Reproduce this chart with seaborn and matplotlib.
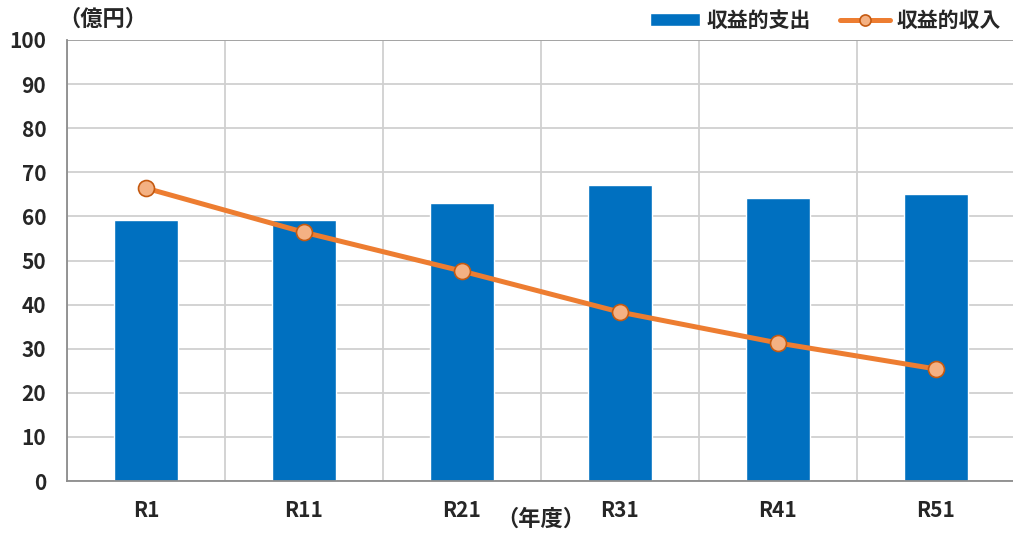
import matplotlib
matplotlib.use('Agg')
import matplotlib.pyplot as plt
import numpy as np
import pandas as pd
import seaborn as sns

years = ['R1', 'R11', 'R21', 'R31', 'R41', 'R51']
spending = [59.2, 59.2, 63.0, 67.1, 64.1, 65.1]
income = [66.4, 56.4, 47.6, 38.3, 31.3, 25.4]

df = pd.DataFrame({'年度': years, '収益的支出': spending, '収益的収入': income})

sns.set_style('white')
plt.rcParams['font.family'] = ['Noto Sans CJK JP', 'DejaVu Sans']
plt.rcParams['font.weight'] = 'bold'

fig = plt.figure(figsize=(10.13, 5.36), dpi=100)
ax = fig.add_axes([67 / 1013, 55 / 536, 948 / 1013, 441 / 536])

sns.barplot(data=df, x='年度', y='収益的支出', color='#0070C0', saturation=1,
            width=0.4, ax=ax, label='収益的支出', zorder=2)
sns.lineplot(data=df, x='年度', y='収益的収入', color='#ED7D31', linewidth=3.6,
             marker='o', markersize=11.5, markerfacecolor='#F4B183',
             markeredgecolor='#C55A11', markeredgewidth=1.2, ax=ax,
             label='収益的収入', zorder=3)

ax.set_xlim(-0.5, 5.5)
ax.set_ylim(0, 100)
ax.set_yticks(np.arange(0, 101, 10))
ax.set_xticks(np.arange(-0.5, 6, 1), minor=True)
ax.grid(axis='y', color='#D0D0D0', linewidth=1.3, zorder=0)
ax.grid(axis='x', which='minor', color='#D0D0D0', linewidth=1.3, zorder=0)
ax.set_axisbelow(True)
for s in ['top', 'right']:
    ax.spines[s].set_visible(False)
ax.spines['left'].set_color('#8C8C8C')
ax.spines['bottom'].set_color('#8C8C8C')
ax.spines['left'].set_linewidth(1.3)
ax.spines['bottom'].set_linewidth(1.3)
ax.axhline(100, color='#A0A0A0', linewidth=1.3, zorder=1)
ax.tick_params(axis='both', which='both', length=0, labelsize=15)
ax.tick_params(axis='y', pad=15)
ax.tick_params(axis='x', pad=14)
for t in ax.get_xticklabels() + ax.get_yticklabels():
    t.set_fontweight('bold')
ax.set_xlabel('')
ax.set_ylabel('')

fig.text(58 / 1013, 1 - 19 / 536, '（億円）', fontsize=16, fontweight='bold',
         va='center', ha='left')
fig.text(541 / 1013, 1 - 519 / 536, '（年度）', fontsize=16, fontweight='bold',
         va='center', ha='center')

handles, labels = ax.get_legend_handles_labels()
if ax.legend_:
    ax.legend_.remove()
order = [labels.index('収益的支出'), labels.index('収益的収入')]
leg = fig.legend([handles[i] for i in order], [labels[i] for i in order],
                 loc='center right', bbox_to_anchor=(1.0, 1 - 20 / 536),
                 ncol=2, frameon=False, handlelength=2.4, handleheight=0.6,
                 columnspacing=1.4, handletextpad=0.3, borderaxespad=0.2,
                 prop={'weight': 'bold', 'size': 15})
leg.legend_handles[1].set_markersize(8)

fig.savefig('out.png', dpi=100)
